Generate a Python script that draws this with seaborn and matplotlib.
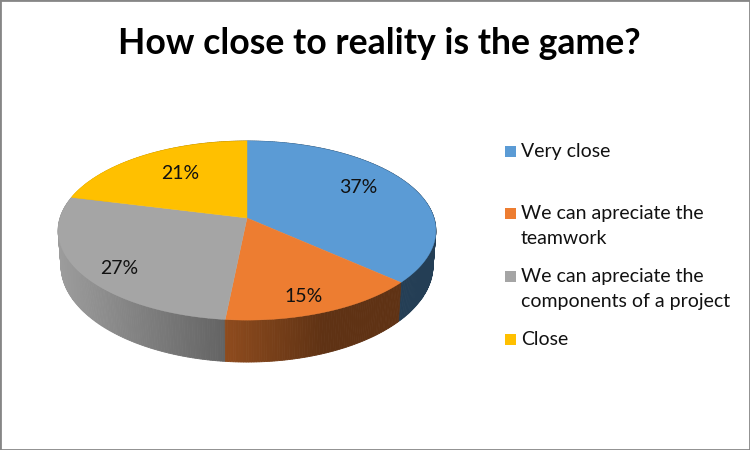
import numpy as np
import matplotlib
matplotlib.use("Agg")
import matplotlib.pyplot as plt
from matplotlib.patches import Rectangle
import seaborn as sns

title = "How close to reality is the game?"
categories = ["Very close", "We can apreciate the\nteamwork",
              "We can apreciate the\ncomponents of a project", "Close"]
values = [36.6, 15.0, 27.3, 21.1]
colors = sns.color_palette(["#5B9BD5", "#ED7D31", "#A5A5A5", "#FFC000"])

sns.set_theme(style="white")
plt.rcParams["font.family"] = ["Lato", "DejaVu Sans"]

# Perspective geometry of the tilted disc, in figure pixels
HUB_X, HUB_Y = 247.0, 218.0
A, B, K = 187.0, 87.8, 0.14


def project(theta, r=1.0):
    """theta: clockwise from 12 o'clock, radians. Returns offsets from the hub (y up)."""
    x, y = r * np.sin(theta), r * np.cos(theta)
    w = 1 + K * y
    return A * x / w, B * y / w


def top_rim(xp, yp):
    return HUB_X + xp, HUB_Y - yp


def bottom_rim(xp, yp):
    return HUB_X + 0.985 * xp, HUB_Y - yp + 34 - 0.078 * yp


def shade(xp):
    return np.interp(xp, [-189, -20, 76, 189], [0.95, 0.60, 0.40, 0.40])


fig = plt.figure(figsize=(7.5, 4.5), dpi=100, facecolor="white")
ax = fig.add_axes([0, 0, 1, 1])
ax.set_xlim(0, 750)
ax.set_ylim(450, 0)
ax.set_xticks([])
ax.set_yticks([])
for s in ax.spines.values():
    s.set_color("#868686")
    s.set_linewidth(2)

fractions = np.array(values, dtype=float) / np.sum(values)
edges = 2 * np.pi * np.concatenate([[0], np.cumsum(fractions)])

# Side wall: thin strips, far ones first, each shaded by its horizontal position
strips = []
for i, color in enumerate(colors):
    n = max(int((edges[i + 1] - edges[i]) / 0.012), 2)
    th = np.linspace(edges[i], edges[i + 1], n + 1)
    for a, b in zip(th[:-1], th[1:]):
        xa, ya = project(a)
        xb, yb = project(b)
        strips.append((0.5 * (ya + yb), a, b, color))
strips.sort(key=lambda t: -t[0])
for yval, a, b, color in strips:
    xa, ya = project(a)
    xb, yb = project(b)
    f = shade(0.5 * (xa + xb))
    c = tuple(f * v for v in color)
    xs = [top_rim(xa, ya)[0], top_rim(xb, yb)[0], bottom_rim(xb, yb)[0], bottom_rim(xa, ya)[0]]
    ys = [top_rim(xa, ya)[1], top_rim(xb, yb)[1], bottom_rim(xb, yb)[1], bottom_rim(xa, ya)[1]]
    ax.fill(xs, ys, color=c, lw=0.6, zorder=2)

# Top face
for i, color in enumerate(colors):
    th = np.linspace(edges[i], edges[i + 1], 200)
    xp, yp = project(th)
    px, py = top_rim(xp, yp)
    ax.fill(np.r_[HUB_X, px], np.r_[HUB_Y, py], color=color, lw=0.3, zorder=3)

# Percentage labels
label_r = [0.68, 0.75, 0.78, 0.62]
label_lift = [7, -10, -8, 4]
for i, v in enumerate(values):
    xp, yp = project(0.5 * (edges[i] + edges[i + 1]), label_r[i])
    px, py = top_rim(xp, yp)
    ax.text(px, py - label_lift[i], f"{v:.0f}%", ha="center", va="center", fontsize=14,
            color="#111111", zorder=4)

# Title
ax.text(379.5, 43, title, ha="center", va="center", fontsize=25.7,
        fontweight="bold", color="black")

# Legend
legend_y = [151, 213, 276, 339]
for y, lab, color in zip(legend_y, categories, colors):
    ax.add_patch(Rectangle((505, y - 5.5), 11, 11, facecolor=color, edgecolor="none"))
    ax.text(521, y - 8, lab, ha="left", va="top", fontsize=14,
            color="#111111", linespacing=1.6)

fig.savefig("out.png", dpi=100, facecolor="white")
